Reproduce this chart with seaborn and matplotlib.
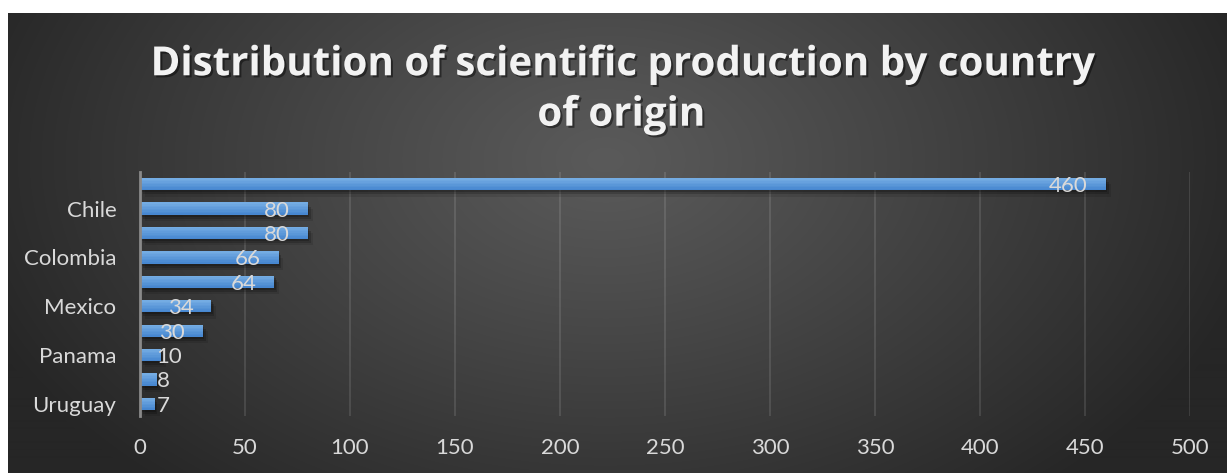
import numpy as np
import pandas as pd
import matplotlib
matplotlib.use("Agg")
import matplotlib.pyplot as plt
import matplotlib.patheffects as pe
import matplotlib.colors as mcolors
import seaborn as sns

# ---- data (top to bottom) ----
row_ids = ["r1", "r2", "r3", "r4", "r5", "r6", "r7", "r8", "r9", "r10"]
tick_labels = ["", "Chile", "", "Colombia", "", "Mexico", "", "Panama", "", "Uruguay"]
values = [460, 80, 80, 66, 64, 34, 30, 10, 8, 7]
x_ticks = [0, 50, 100, 150, 200, 250, 300, 350, 400, 450, 500]
title = "Distribution of scientific production by country\nof origin"

df = pd.DataFrame({"row": row_ids, "value": values})

sns.set_theme(style="white")
plt.rcParams["font.family"] = ["Lato", "DejaVu Sans"]

W, H = 1227, 473
fig = plt.figure(figsize=(W / 100, H / 100), dpi=100, facecolor="white")

# background panel with radial gradient
bx0, by0 = 8, 13
bg_ax = fig.add_axes([bx0 / W, 0, 1 - bx0 / W, (H - by0) / H])
bg_ax.set_axis_off()
gw, gh = W - bx0, H - by0
yy, xx = np.mgrid[0:gh, 0:gw]
cx, cy = gw * 0.49, gh * 0.32
d = np.sqrt(((xx - cx) / (gw * 0.55)) ** 2 + ((yy - cy) / (gh * 0.95)) ** 2)
d = np.clip(d, 0, 1)
light, dark = 0x5a / 255, 0x26 / 255
g = light + (dark - light) * d ** 1.1
img = np.dstack([g, g, g])
bg_ax.imshow(img, aspect="auto", extent=[0, 1, 0, 1], interpolation="bilinear")
bg_ax.set_xlim(0, 1)
bg_ax.set_ylim(0, 1)

# main axes
ax_l, ax_r = 140 / W, 1190 / W
ax_t, ax_b = 1 - 172 / H, 1 - 416 / H
ax = fig.add_axes([ax_l, ax_b, ax_r - ax_l, ax_t - ax_b])
ax.patch.set_alpha(0)

sns.barplot(data=df, x="value", y="row", orient="h", ax=ax, color="#5b9bd5",
            width=0.5, saturation=1, edgecolor="none", zorder=3)

top_c = np.array(mcolors.to_rgb("#74ace3"))
bot_c = np.array(mcolors.to_rgb("#4787d0"))
n_strips = 8
for p in list(ax.patches):
    p.set_path_effects([
        pe.SimplePatchShadow(offset=(3.5, -4.5), shadow_rgbFace="black", alpha=0.10),
        pe.SimplePatchShadow(offset=(2, -3), shadow_rgbFace="black", alpha=0.18),
        pe.SimplePatchShadow(offset=(1, -1.5), shadow_rgbFace="black", alpha=0.2),
        pe.Normal()])
    x0, y0 = p.get_x(), p.get_y()
    w, h = p.get_width(), p.get_height()
    for k in range(n_strips):
        t = k / (n_strips - 1)
        c = top_c * (1 - t) + bot_c * t
        ax.add_patch(plt.Rectangle((x0, y0 + k * h / n_strips), w, h / n_strips + 0.002,
                                   color=c, lw=0, zorder=3.5))

ax.set_xlim(0, 500)
ax.set_xticks(x_ticks)
ax.set_xticklabels([str(t) for t in x_ticks])
ax.set_yticks(range(len(tick_labels)))
ax.set_yticklabels(tick_labels)
ax.set_xlabel("")
ax.set_ylabel("")
ax.tick_params(axis="x", colors="#d9d9d9", labelsize=16, length=0, pad=16)
ax.tick_params(axis="y", colors="#d9d9d9", labelsize=16, length=0, pad=17)
for lbl in ax.get_xticklabels() + ax.get_yticklabels():
    lbl.set_color("#d9d9d9")

ax.grid(axis="x", color="#ffffff", alpha=0.12, lw=1.3, zorder=0)
ax.grid(axis="y", visible=False)
for s in ["top", "right", "bottom"]:
    ax.spines[s].set_visible(False)
ax.spines["left"].set_color("#8a8a8a")
ax.spines["left"].set_linewidth(2)
ax.spines["left"].set_zorder(4)

# data labels: inside end
for i, v in enumerate(values):
    if v >= 20:
        ax.annotate(str(v), xy=(v, i), xytext=(-13, -1.5), textcoords="offset points",
                    ha="right", va="center", color="#d9d9d9", fontsize=16, zorder=5)
    else:
        ax.annotate(str(v), xy=(0, i), xytext=(12, -1.5), textcoords="offset points",
                    ha="left", va="center", color="#d9d9d9", fontsize=16, zorder=5)

fig.text(621 / W, 1 - 90 / H, title, ha="center", va="center", color="#f2f2f2",
         fontsize=29, fontweight="bold", linespacing=1.38,
         family=["Open Sans", "DejaVu Sans"],
         path_effects=[pe.withSimplePatchShadow(offset=(1.5, -1.5), shadow_rgbFace="black", alpha=0.45)])

fig.savefig("out.png", dpi=100, facecolor="white")
